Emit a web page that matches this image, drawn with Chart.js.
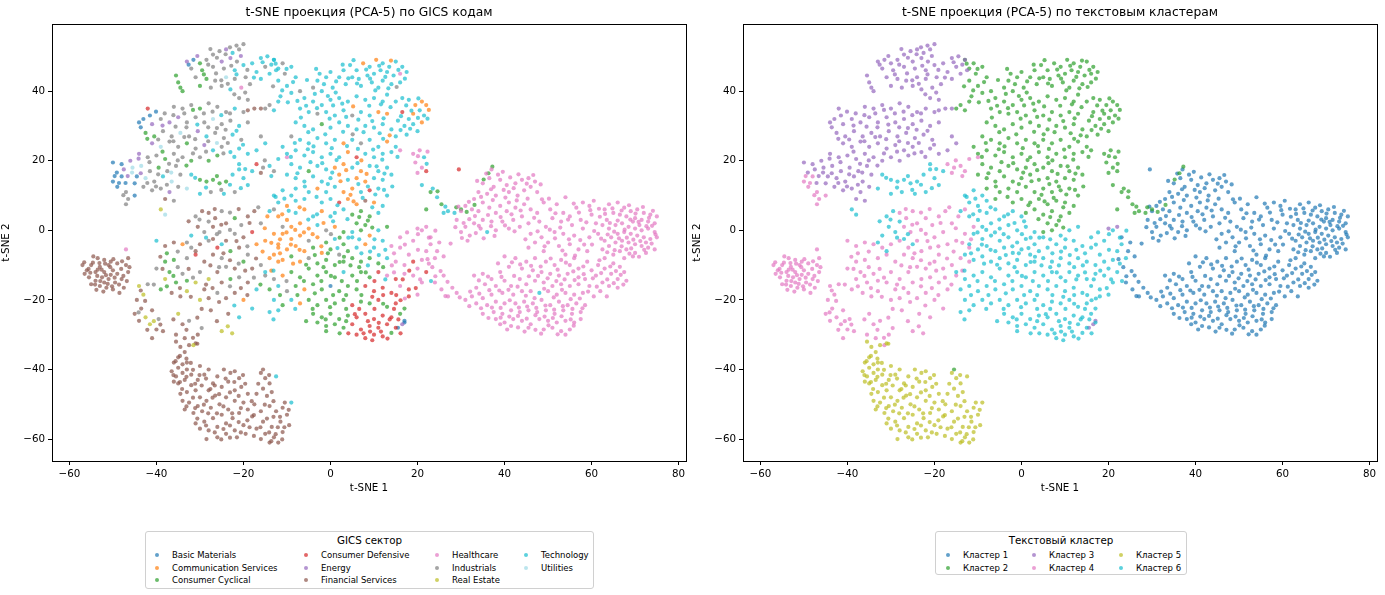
<!DOCTYPE html>
<html>
<head>
<meta charset="utf-8">
<script src="https://cdn.jsdelivr.net/npm/chart.js@4.4.1/dist/chart.umd.min.js"></script>
<style>
  body { margin: 0; background: #fff; font-family: "DejaVu Sans", sans-serif; }
  #wrap { position: relative; width: 1385px; height: 595px; overflow: hidden; }
  canvas { position: absolute; top: 0; }
  .ttl { position: absolute; top: 5px; font-size: 12.3px; color: #000; white-space: nowrap; transform: translateX(-50%); }
  .leg { position: absolute; border: 1px solid #d0d0d0; border-radius: 3px; background: #fff; }
  .leg .lt { position: absolute; top: 2px; left: 0; right: 0; text-align: center; font-size: 10.3px; }
  .leg .it { position: absolute; font-size: 8.5px; white-space: nowrap; line-height: 10px; }
  .leg .mk { position: absolute; width: 4px; height: 4px; border-radius: 50%; }
</style>
</head>
<body>
<div id="wrap">
  <canvas id="left" width="690" height="500" style="left:0"></canvas>
  <canvas id="right" width="690" height="500" style="left:691px"></canvas>
  <div class="ttl" style="left:369px">t-SNE проекция (PCA-5) по GICS кодам</div>
  <div class="ttl" style="left:1060px">t-SNE проекция (PCA-5) по текстовым кластерам</div>
  <div class="leg" id="legL" style="left:145px;top:531px;width:447px;height:56px"><div class="lt">GICS сектор</div></div>
  <div class="leg" id="legR" style="left:935px;top:531px;width:250px;height:42px"><div class="lt">Текстовый кластер</div></div>
</div>
<script>
// categories
const sectors = ['Basic Materials', 'Communication Services', 'Consumer Cyclical', 'Consumer Defensive',
  'Energy', 'Financial Services', 'Healthcare', 'Industrials', 'Real Estate', 'Technology', 'Utilities'];
const clusterNames = ['Кластер 1', 'Кластер 2', 'Кластер 3', 'Кластер 4', 'Кластер 5', 'Кластер 6'];
const xTicks = [-60, -40, -20, 0, 20, 40, 60, 80];
const yTicks = [-60, -40, -20, 0, 20, 40];

// points per text cluster: [t-SNE 1, t-SNE 2, sector index]
const cluster1 = [
  [37,17.5,6],[38.5,16,6],[36.5,15,6],[35,13.5,6],[39,14.5,6],[40.5,13,6],[37.5,12.5,6],[34,11,6],[36,10.5,6],[38,10,6],
  [41,11,6],[42.5,13.5,6],[44,14.5,6],[45.5,15,6],[47,14,6],[46,12.5,6],[44.5,11.5,6],[43,10,6],[47.5,11,6],[33,9,6],
  [35,8,6],[31,7,6],[32.5,6,6],[30,5.5,6],[34,5.5,6],[36.5,6.5,6],[39,7,6],[41,8,6],[38,5,6],[40.5,5.5,6],
  [42.5,6.5,6],[44.5,7.5,6],[46,6,6],[47.5,5,6],[44,4,6],[42,3,6],[39.5,2.5,6],[37,2.5,6],[35,3,6],[33,2,6],
  [31,1,6],[30,-0.5,6],[32,-1.5,6],[34.5,0.5,6],[36,-0.5,9],[38,0,6],[41,0.5,6],[43.5,1,6],[45.5,2,6],[48,2.5,6],
  [29,3,6],[31.5,-3,6],[29.5,17.5,3],
  [33.7,14.2,6],[35.8,16.3,6],[39.6,16.8,6],[41.3,15.2,6],[43.2,16.1,6],[46.6,15.9,6],[48.3,13.2,6],[45.1,13.4,6],[42.1,12.1,6],[39.8,11.6,6],
  [36.9,11.8,6],[34.6,9.6,6],[37.3,8.7,6],[40.2,9.4,6],[42.8,8.6,6],[45.3,9.1,6],[48.6,8.9,6],[31.8,8.2,6],[29.4,6.8,6],[33.2,4.1,6],
  [36.2,4.4,6],[39.1,3.8,6],[41.6,4.6,6],[43.7,5.7,6],[46.8,3.6,6],[31.9,3.2,6],[34.1,1.3,6],[36.9,1.2,6],[40.1,1.4,6],[42.3,-0.3,6],
  [30.6,2.1,6],[28.7,0.9,6],[33.4,-0.8,6],[35.2,-2.3,6],[30.2,-2.2,6],[37.7,-1.6,6],
  [49,8,6],[50.5,6,6],[52,7.5,6],[53.5,5,6],[55,4,6],[54,9.5,6],[56.5,6.5,6],[58,8,6],[59.5,7,6],[60.5,8.5,6],
  [57.5,3,6],[55.5,1.5,6],[53,2.5,6],[51,3.5,6],[49.5,1,6],[51.5,-0.5,6],[53.5,-1,6],[56,-1.5,6],[58,0.5,6],[59.5,-2,6],
  [61,2,6],[60,4.5,6],[50,-3.5,6],[52.5,-4.5,6],[55,-4,6],[57,-5.5,6],[59,-6,6],[54,-7,6],[48.5,-2,6],[47,-3.5,6],
  [46,-1,6],[45.5,-5,6],[49,-6,6],
  [50.2,9.1,6],[51.7,4.9,6],[52.8,0.8,6],[54.6,3.1,6],[55.9,7.7,6],[57.1,5.1,6],[58.8,2.3,6],[59.7,5.8,6],[61.7,6.2,6],[60.6,-0.2,6],
  [57.4,-2.8,6],[54.8,-2.6,6],[51.6,-2.3,6],[49.2,-4.6,6],[53.3,-5.8,6],[56.2,-7.3,6],[58.3,-4.1,6],[47.6,-0.3,6],[50.4,0.2,6],[44.8,-2.6,6],
  [60.1,-4.1,6],[61.9,3.9,6],
  [64,7.5,6],[66,8,6],[67.5,6.5,6],[69,5.5,6],[70.5,6,6],[72,5,6],[73.5,4.5,6],[75,4,6],[74.5,2,6],[73,2.5,6],
  [71.5,3,6],[70,3.5,6],[68,4,6],[66.5,4.5,6],[65,5,6],[63.5,3,6],[62.5,1.5,6],[64,0.5,6],[65.5,1.5,6],[67,2,6],
  [68.5,1,6],[70,0.5,6],[71.5,0,6],[73,0.5,6],[74.5,-0.5,6],[75,-2,6],[73.5,-2.5,6],[72,-2,6],[70.5,-1.5,6],[69,-1,6],
  [67.5,-0.5,6],[66,-1,6],[64.5,-2,6],[63,-3,6],[64,-4.5,6],[65.5,-3.5,6],[67,-3,6],[68.5,-3.5,6],[70,-4,6],[71.5,-4.5,6],
  [73,-5,6],[74.5,-5.5,6],[72.5,-6.5,6],[70,-6.5,6],[68,-5.5,6],[66.5,-6,6],[65,-7,6],[67.5,-8,6],[69.5,-7.5,6],[61.5,-1,6],
  [62.5,-5.5,6],[71,1.5,6],[69.5,2.5,6],[66,2.8,6],[63,6,6],[72.5,-3.5,6],
  [63.1,4.7,6],[64.8,6.3,6],[66.9,5.7,6],[68.6,7.2,6],[70.1,4.8,6],[71.8,6.7,6],[73.2,3.6,6],[74.1,5.6,6],[72.6,1.2,6],[70.8,2.4,6],
  [68.9,3.1,6],[67.6,0.2,6],[65.2,-0.4,6],[63.7,-1.2,6],[66.3,-2.3,6],[68.1,-2.1,6],[69.6,-2.7,6],[71.2,-3.1,6],[73.8,-3.8,6],[74.7,-1.2,6],
  [72.1,-5.6,6],[69.1,-5.2,6],[66.9,-4.6,6],[65.3,-5.7,6],[63.6,-6.3,6],[70.9,-7.6,6],[68.7,-6.7,6],[64.2,2.1,6],[73.9,1.3,6],[62.2,-2.4,6],
  [63,-8,6],[65,-9.5,6],[66.5,-10.5,6],[67.5,-12,6],[68,-14.5,6],[66,-14,6],[64.5,-12.5,6],[63,-11,6],[61.5,-10,6],[60,-11.5,6],
  [61,-13,6],[62.5,-15,6],[64,-16,6],[62,-17.5,6],[60.5,-19,6],[59.5,-16,6],[58.5,-14,6],[59,-9,6],[66,-16.5,6],[63.5,-19,6],
  [61.8,-8.6,6],[64.3,-10.4,6],[66.7,-12.8,6],[65.6,-11.7,6],[62.2,-12.3,6],[63.6,-14.1,6],[61.2,-16.2,6],[65.1,-15.2,6],[67.3,-15.6,6],[60.3,-13.8,6],
  [59.2,-17.6,6],[58.1,-10.4,6],
  [40,-7.5,6],[42.5,-8,6],[45,-9,6],[47,-8,6],[49.5,-9,6],[51.5,-10,6],[53,-8.5,6],[55,-10,6],[57,-11,6],[56,-8,6],
  [44,-11,6],[41,-10.5,6],[38.5,-9.5,6],[39,-12,6],[46.5,-11.5,6],[48.5,-12,6],[50.5,-12.5,6],[52.5,-13,6],[54.5,-12.5,6],[57,-13.5,6],
  [33,-13,6],[35,-12.5,6],[37,-14,6],[35.5,-15.5,6],[33.5,-16.5,6],[38,-16,6],[40,-14.5,6],[41.5,-16,6],[43.5,-14,6],[45,-15.5,6],
  [47,-14.5,6],[49,-15,6],[51,-16,6],[53,-15.5,6],[55,-16,6],[57,-15.5,6],[58,-18,6],[56,-18.5,6],[54,-18,6],[52,-18.5,6],
  [50,-17.5,6],[48,-18,9],[46,-17.5,6],[44,-17.5,6],[42,-18.5,6],[39.5,-18,6],[37,-18.5,6],[35,-19.5,6],[32.5,-19,6],
  [31,-20,6],[33.5,-21,6],[36,-21.5,6],[38,-20.5,6],[40,-21,6],[42.5,-21,6],[44.5,-20.5,6],[46.5,-21,6],[48.5,-20,6],[50.5,-21.5,6],
  [52.5,-20.5,6],[54.5,-21.5,6],[56.5,-21,6],[58.5,-21.5,6],[57.5,-23.5,6],[55.5,-24,6],[53.5,-23,6],[51.5,-24,6],[49.5,-23,6],[47.5,-23.5,6],
  [45.5,-23,6],[43.5,-23.5,6],[41.5,-23,6],[39.5,-24,6],[37.5,-23.5,6],[35,-24,6],
  [38,-25.5,6],[40,-26.5,6],[42,-25.5,6],[44,-26,6],[46,-27,6],[48,-25.5,6],[50,-26,6],[52,-26.5,6],[54,-26,6],[56,-26.5,6],
  [55,-28.5,6],[53,-29,6],[54,-30,6],[51,-28,6],[49,-28.5,6],[45.5,-28,6],[41.5,-27.5,6],[39,-27,6],[57.5,-25.5,6],
  [41.7,-9.2,6],[43.6,-9.8,6],[46.1,-10.2,6],[48.3,-10.4,6],[50.6,-8.1,6],[52.2,-11.3,6],[54.1,-9.3,6],[55.8,-11.8,6],[58.2,-12.6,6],[45.6,-13.2,6],
  [47.7,-13.1,6],[49.9,-13.8,6],[51.9,-14.6,6],[53.8,-14.1,6],[56.1,-14.3,6],[42.2,-13.1,6],[39.3,-13.4,6],[36.2,-13.3,6],[34.1,-14.4,6],[36.5,-17.2,6],
  [38.8,-17.3,6],[40.9,-17.1,6],[43,-16.2,6],[44.9,-18.8,6],[46.9,-19.5,6],[49.1,-16.8,6],[51.3,-19.3,6],[53.2,-17.1,6],[55.2,-19.8,6],[57.3,-19.6,6],
  [34.2,-18.2,6],[32.1,-17.6,6],[31.9,-21.8,6],[34.6,-22.4,6],[37.1,-22.2,6],[39.1,-22.3,6],[41.2,-20.1,6],[43.3,-22.2,6],[45.2,-21.9,6],[47.3,-22.3,6],
  [49.4,-21.6,6],[51.4,-22.8,6],[53.4,-21.8,6],[55.6,-22.6,6],[57.9,-22.4,6],[36.3,-25.2,6],[39.1,-25.1,6],[41.1,-24.8,6],[43.1,-24.6,6],[45.1,-25.4,6],
  [47.1,-24.4,6],[49.2,-24.8,6],[51.1,-25.2,6],[53.1,-24.7,6],[55.2,-25.6,6],[43.1,-27.9,6],[47.1,-28.6,6],[50.1,-27.3,6],[52.2,-29.9,6],[55.9,-27.4,6],
  [40.6,-28.5,6],[44.6,-29.1,6],[48.4,-29.7,6],
  [24,-15,6],[25.5,-17,6],[27,-19,6],[29,-18,6],[28,-16.5,6],[26,-13,6],[24.5,-6,6],[26,-7.5,6],[23,-2,6],[25,-3.5,6],
  [22.3,-8.3,6],[23.4,-10.6,6],[25.3,-11.7,6],[26.9,-14.8,6],[29.7,-19.3,6],[26.4,-18.9,6],[27.6,-3.8,6],[24.1,-13.2,6]
];
const cluster2 = [
  [2,44,9],[3,46,9],[4.5,47.5,9],[6,46,9],[7.5,48,1],[9,47,9],[10.5,49,1],[12,48,9],[13.5,47,9],[15,48.5,9],
  [16.5,47,9],[17.5,45.5,9],[16,45,6],[14.5,44.5,9],[13,45.5,9],[11.5,46,9],[10,45,9],[8.5,44.5,9],[6.5,43.5,9],[5,44,9],
  [3.5,42,9],[7,41.5,9],[9.5,42.5,9],[12,43,9],[14,42,9],[16,42.5,9],[11,41,9],
  [2.8,47.6,9],[5.3,48.9,9],[8.2,46.2,9],[11.2,47.3,9],[13.9,48.8,1],[15.6,46.1,9],[17.1,43.6,9],[12.6,44.1,9],[9.1,43.6,9],[6.1,42.2,9],
  [4.1,43.7,9],[1.3,42.8,9],[10.3,40.2,9],[13.3,40.8,9],[15.2,41.2,7],
  [-2.5,45,9],[-1,44,9],[0,45.5,9],[-3,43,9],[-1.5,42,9],[0.5,41,9],[-4,41,7],[-2,40,9],
  [-13,49,9],[-11,48,7],[-9,47,9],[-12,46.5,9],[-10.5,45,7],[-8,44,9],[-12,43,9],[-10,41.5,9],[-7,40,7],[-9,39.5,9],
  [-11.5,38.5,9],[-14,36,7],[-15,35,7],[-13,34.5,9],[-12,37,9],
  [-12.6,47.9,9],[-10.1,46.4,9],[-8.6,42.6,9],[-11.1,40.2,9],[-13.2,41.4,7],[-9.8,36.8,9],[-7.6,37.2,9],[-3.6,39.2,9],[-0.6,38.6,9],[-5.4,43.2,9],
  [-3.3,46.4,9],[1.2,39.6,9],
  [-6,38,9],[-4,37,9],[-2,36,9],[0,37.5,9],[2,38,9],[4,37,9],[6,38.5,9],[8,37.5,9],[10,38,9],[12,37,9],
  [13,39,9],[-7,35,9],[-5,34,9],[-3,33.5,7],[-1,34,9],[1,33,9],[3,34.5,9],[5,33,7],[7,34,9],[9,33,9],
  [11,34,1],[13,33.5,1],[-8,31,9],[-6,30,9],[-4,29,9],[-2,30.5,2],[0,29.5,9],[2,31,9],[4,30,9],[6,29,9],
  [8,30,9],[10,29.5,9],[12,30.5,9],[14,29,9],[-9,27,7],[-7,26,9],[-5,25,9],[-3,26.5,9],[-1,25,9],[1,26,9],
  [3,25,1],[5,26,9],[7,25,7],[9,26,9],[11,24,9],[13,25.5,1],[15,24,9],[-11,24,9],[-10,22,9],[-8,23,9],
  [-6,21.5,9],[-4,22.5,9],[-2,21,9],[0,22,9],[2,21,9],[4,22.5,1],[6,21,3],[8,22,9],[10,21,9],[12,22,9],
  [14,22.5,9],[16,23,6],
  [-5.6,35.8,9],[-3.1,35.1,9],[0.6,35.9,9],[2.7,36.4,9],[5.2,35.6,1],[8.9,35.8,9],[11.6,36.2,9],[13.8,35.4,9],[-6.8,32.4,9],[-0.2,32.1,9],
  [3.6,32.6,9],[6.4,31.8,9],[9.6,31.4,9],[12.2,32.2,9],[-5.1,28.2,9],[-1.2,27.6,9],[2.9,28.3,9],[5.1,27.6,7],[7.6,28.2,9],[11.3,27.9,9],
  [13.6,27.3,1],[-8.2,25.1,9],[-3.9,24.1,9],[0.3,23.6,9],[3.8,24.2,9],[6.3,23.4,9],[9.8,23.2,9],[12.1,26.3,9],[-9.1,21.1,9],[-5.2,23.3,9],
  [1.4,20.2,9],[7.1,20.1,1],[11.9,20.3,9],[15.4,21.1,9],
  [15,37,9],[16.5,38,9],[18,37.5,9],[19.5,36,1],[21,37,1],[22,36,1],[20.5,34.5,9],[19,33.5,1],[21.5,33,9],[18,32,9],
  [16.5,34,3],[15.5,31.5,9],[17,30,9],[19,30.5,9],[21,31,1],[20,28.5,9],[17.5,27.5,9],[15,27,9],
  [17.4,35.9,9],[20.2,37.9,9],[22.6,34.6,1],[18.6,34.4,9],[16.2,32.8,9],[20.1,32.3,9],[18.3,29.2,9],[16.1,28.8,9],[22.3,32.1,9],
  [-9,19,9],[-7,18,9],[-5,17,2],[-3,18.5,9],[-1,17.5,9],[1,18,1],[3,19,1],[5,18,9],[7,17,1],[9,18.5,9],
  [11,17,9],[13,18,9],[-8,15,9],[-6,14,9],[-4,15.5,9],[-2,14,9],[0,15,9],[2,16,1],[4,14.5,9],[6,15,1],
  [8,14,1],[10,15,9],[12,14.5,9],[14,16,9],[-5,11,9],[-3,12,1],[-1,11,9],[1,12.5,9],[3,11,1],[5,12,1],
  [7,11,9],[9,11.5,3],[11,12,9],[13,10,9],[-2,8,9],[0,9,9],[2,8,3],[4,9,1],[6,7.5,1],[8,8.5,5],
  [10,8,1],[12,7,9],[1,5,9],[3,6,9],[5,4.5,2],[7,5.5,2],[9,4,2],[11,5,9],[6,2,2],[8,1.5,2],
  [7,0,2],[5,-0.5,9],[-8,12,9],[-10,16,9],[-6,9,9],
  [-7.6,16.4,9],[-4.6,19.6,9],[-1.9,19.3,9],[0.4,16.6,9],[3.6,17.3,1],[6.2,19.3,9],[8.3,16.2,1],[10.6,18.4,9],[12.4,16.3,9],[-5.9,12.6,9],
  [-3.2,9.6,9],[-0.6,13.3,9],[2.3,14.1,1],[4.6,10.2,1],[6.4,13.3,9],[8.6,12.6,9],[10.3,10.3,9],[12.3,11.6,9],[14.2,12.6,9],[1.6,7.2,9],
  [5.3,8.3,1],[7.4,9.3,9],[9.6,6.6,9],[3.9,3.2,9],[6.6,3.8,2],[8.6,2.8,2],[9.6,0.8,2],
  [19,22,6],[20.5,23,6],[21.5,21,9],[19.5,19.5,6],[21,18,6],[20,16.5,6],[22,17,3],[21,13,9],[23,11,2],[24.5,9.5,9],
  [25.5,7.5,2],[27,5.5,9],[28.5,5,9],[30,6,2],[26,5,9],[23.5,12,9],[22,6,2],[-15.5,-40,5],
  [20.1,21.3,6],[22.3,22.6,6],[22.1,19.1,9],[24.6,11.2,2],[26.4,6.8,9],[28.9,6.6,2],[31.3,5.3,2],[33.1,7.3,2],[35.2,14.6,2],[36.3,16.4,2],
  [37.2,18.3,2]
];
const cluster3 = [
  [-20,53.5,7],[-21,52,7],[-22.5,51,9],[-24,52,4],[-25.5,51.5,7],[-27,50.5,7],[-23,49.5,4],[-21.5,48.5,7],[-25,48.5,4],[-28.5,49,7],
  [-30,48,2],[-31.5,49,0],[-33,48.5,4],[-32,46.5,7],[-29.5,46,2],[-27,47,7],[-24.5,46.5,7],[-22,46,9],[-20,47.5,9],[-18,48,9],
  [-16,49.5,9],[-14.5,50,9],[-13,49,9],[-15,47,7],[-17,45.5,9],[-19.5,44,7],[-22,43.5,7],[-24,44,10],[-26.5,43,7],[-28.5,43.5,2],
  [-31,44,7],[-30,41.5,2],[-27.5,41,7],[-25,41.5,7],[-23,40.5,9],[-20.5,41,6],[-18.5,42,7],[-16,43.5,9],[-14,45,9],[-12.5,46,9],
  [-21,38,7],[-19,37.5,7],[-19,34.5,5],[-17.5,35,5],[-16,35,5],
  [-21.6,53.1,7],[-23.1,52.6,7],[-26.1,49.6,7],[-28.1,47.6,7],[-22.8,47.3,7],[-20.6,50.1,4],[-24.1,50.6,7],[-26.3,45.1,7],[-29.1,44.8,2],[-32.6,47.6,0],
  [-23.6,42.1,7],[-21.6,44.8,9],[-19.1,46.1,7],[-17.6,43.9,9],[-15.6,48.3,9],[-13.6,47.6,9],[-30.6,50.1,4],[-27.6,52.1,7],[-25.1,43.1,7],[-19.6,39.6,7],
  [-22.1,39.1,7],
  [-35.5,44.5,2],[-35,42.5,2],[-34.5,41,2],[-34,40,2],
  [-36,35.5,7],[-34,35,7],[-32,36,7],[-30,35,2],[-28,36.5,7],[-26,35.5,7],[-24,34,7],[-22,35,9],[-20,34,7],
  [-42,35,3],[-41.5,33,0],[-43,32,0],[-44,31,0],[-41,30.5,4],[-39,32,7],[-37,31,4],[-35,32.5,4],[-33,31,7],[-31,32.5,7],
  [-29,31,7],[-27,32,10],[-25,30.5,7],[-23,31.5,7],[-21,30,9],[-19,31,7],
  [-42.5,28,2],[-40.5,27,2],[-38.5,28.5,7],[-36.5,27,7],[-34.5,28,10],[-32.5,27,7],[-30.5,28.5,4],[-28.5,27,9],[-26.5,28,7],[-24.5,26.5,7],
  [-22.5,27.5,9],[-20.5,26,7],[-41,25,4],[-39,24,10],[-37,25.5,7],[-35,24,7],[-33,25,2],[-31,23.5,7],[-29,24.5,4],[-27,23,9],
  [-25,24,7],[-23,22.5,9],[-21,23.5,9],[-19,22,9],[-40,21.5,7],[-38,20.5,2],[-36,22,7],[-34,21,7],[-32,20,2],[-30,21,7],
  [-28,20,2],[-26,21.5,2],[-17,23,9],[-15,25,9],[-16,27,7],
  [-40.1,34.1,0],[-38.1,33.6,7],[-36.1,33.1,7],[-33.6,33.6,7],[-31.6,34.6,2],[-29.1,33.6,7],[-27.1,34.1,7],[-25.1,33.1,9],[-23.1,33.6,7],[-38.6,30.1,4],
  [-35.6,29.8,7],[-33.1,29.6,7],[-30.6,30.4,9],[-28.1,29.6,7],[-26.1,29.4,7],[-24.1,28.9,7],[-21.6,28.6,9],[-43.6,29.6,0],[-42.1,26.3,2],[-39.6,26.1,7],
  [-36.1,25.6,7],[-33.6,26.8,7],[-31.1,26.2,7],[-28.1,25.6,7],[-26.1,25.1,10],[-23.6,25.1,7],[-20.1,24.6,9],[-38.6,22.6,2],[-35.1,20.1,7],[-31.6,22.1,7],
  [-28.6,22.6,7],[-24.6,22.1,7],[-22.1,21.1,9],[-37.1,19.1,7],[-33.1,18.6,2],
  [-44,22,4],[-42,21,7],[-46,20,4],[-48,19,0],[-50,19.5,0],[-47.5,17.5,4],[-45.5,18,10],[-43.5,18.5,10],[-41.5,17,7],[-39.5,18,2],
  [-37.5,17,7],[-35.5,18.5,7],[-44.5,15.5,0],[-42.5,15,10],[-40.5,14,7],[-38.5,15.5,9],[-36.5,14,10],[-34.5,16,7],[-43,12.5,7],[-41,11.5,7],
  [-39,12,7],[-37,11,4],[-35,12.5,7],[-38,9,5],[-36,8.5,7],[-45,13.5,0],
  [-49.1,16.6,0],[-46.6,15.6,4],[-47.1,13.6,0],[-45.6,16.6,10],[-43.6,16.4,4],[-41.6,19.6,7],[-39.6,16.1,7],[-37.6,13.1,7],[-40.1,12.6,7],[-42.1,13.6,7],
  [-44.1,20.6,4],[-36.6,16.6,10],
  [15.5,-28,0],[16.5,-27,4],[17,-26,0],[20,0.5,6],[22,1,6]
];
const cluster4 = [
  [-57,-10,5],[-56,-11.5,5],[-55,-10,5],[-54,-12,5],[-53,-10.5,5],[-52,-12,5],[-51,-10,5],[-50,-11.5,5],[-49,-12.5,5],[-55.5,-13.5,5],
  [-54,-14.5,5],[-52.5,-13.5,5],[-51,-14,5],[-49.5,-15,5],[-53,-16,5],[-51.5,-16.5,5],[-50,-17,5],[-48,-14,5],[-47.5,-16.5,5],[-56.5,-12.5,5],
  [-53.5,-8,5],[-52,-8.5,5],[-50.5,-9,5],[-54.5,-7.5,5],[-49,-9.5,5],[-47,-10,5],[-46.5,-8,5],[-47,-5.5,6],[-46.5,-12,5],[-52,-15,5],
  [-50.5,-12.8,5],[-53.5,-11.3,5],[-55,-15.5,5],[-48.5,-18,5],
  [-56.6,-9.2,5],[-55.6,-11.1,5],[-54.6,-9.3,5],[-53.6,-13.1,5],[-52.6,-11.3,5],[-51.6,-12.9,5],[-50.6,-10.6,5],[-49.6,-13.6,5],[-54.1,-15.6,5],[-52.9,-14.6,5],
  [-51.2,-15.4,5],[-50.2,-16.1,5],[-48.6,-15.6,5],[-47.6,-13.1,5],[-55.2,-12.2,5],[-53.1,-9.4,5],[-51.8,-9.6,5],[-49.9,-8.3,5],[-48.1,-11.1,5],[-47.9,-8.9,5],
  [-46.2,-10.6,5],[-53.8,-17.1,5],[-52.2,-17.6,5],[-46.8,-14.6,5],
  [-44,-16,8],[-43,-18.5,8],[-42,-15.5,7],[-44.5,-20,5],[-43.5,-22.5,5],[-42.5,-25,8],[-41.5,-27,8],[-40,-28.5,5],[-41,-23,5],[-39.5,-25.5,7],
  [-38.5,-29,5],[-39,-17,2],[-38,-14,8],[-40,-11,7],[-38,-9,2],[-36,-8.5,2],[-37,-12,2],[-35.5,-15,2],[-34,-12.5,7],[-33,-14.5,2],
  [-36.5,-18,5],[-34.5,-19,5],[-33,-17.5,8],[-35,-24,8],[-34,-27,5],[-32.5,-26,7],[-35.5,-30,5],[-33.5,-31,5],[-31.5,-33,8],[-30.5,-30,5],
  [-40,-3,9],[-38,-4.5,5],[-36,-3.5,5],[-34,-4,1],[-32,-5,7],[-30,-4,5],[-31,-7,3],[-33,-8,7],[-29,-9,5],[-30,-12,7],
  [-31,-15,8],[-29,-17,5],[-28,-19.5,5],[-30,-20,8],[-27.5,-23,5],[-44,-26,5],[-45,-24,5],[-41,-31,5],
  [-43.6,-17.3,5],[-42.6,-20.3,5],[-44.1,-23.6,7],[-40.6,-26.1,8],[-42.1,-28.6,5],[-39.1,-27.1,5],[-40.6,-15.6,7],[-37.6,-16.1,2],[-36.1,-13.1,2],[-35.1,-10.6,7],
  [-38.6,-11.1,5],[-34.6,-16.6,5],[-32.1,-19.1,5],[-36.1,-25.6,5],[-33.1,-28.6,5],[-31.6,-30.9,5],[-29.6,-28.1,7],[-37.6,-6.6,2],[-35.1,-6.1,7],[-39.1,-7.6,5],
  [-32.6,-11.1,5],[-31.6,-13.6,7],[-28.6,-15.6,5],[-29.6,-22.6,5],[-30.6,-25.1,5],
  [-28,5,5],[-26.5,3.5,5],[-25,5.5,7],[-27,1,5],[-25.5,-0.5,7],[-24,2,5],[-22,3.5,2],[-20.5,1.5,7],[-19,4,5],[-17.5,5.5,5],
  [-16,2,7],[-14.5,4,1],[-13,6,7],[-18,-0.5,3],[-20,-2,5],[-22,-1,7],[-24,-3,5],[-26,-5,3],[-28,-3,7],[-27,-7,5],
  [-25,-8,7],[-23,-6,2],[-21,-5,5],[-19,-7,7],[-17,-4,1],[-15,-3,1],[-13,-1,1],[-11,1,7],[-12,-5,1],[-14,-8,1],
  [-16,-10,7],[-18,-11,5],[-20,-9,2],[-22,-11,5],[-24,-10.5,7],[-26,-12,5],[-28,-14,8],[-25,-15,5],[-23,-14,2],[-21,-13.5,7],
  [-19,-15,5],[-17,-17,9],[-22,-18,5],[-24,-19.5,5],[-26,-18,7],[-20,-20,1],[-18,-22.5,9],[-23.5,-24,5],[-25,-29,8],[-21,-25,9],
  [-15,-13,7],[-12,-9,1],
  [-26.6,6.1,5],[-23.1,5.1,7],[-21.1,6.1,5],[-18.6,2.1,5],[-16.6,6.6,7],[-15.1,0.6,1],[-25.1,1.6,5],[-23.1,0.1,7],[-21.6,-3.1,5],[-19.1,-4.6,7],
  [-17.1,-8.1,5],[-15.6,-6.1,1],[-13.6,-3.6,1],[-11.6,-2.6,1],[-24.6,-6.6,5],[-27.6,-10.1,5],[-25.6,-10.6,7],[-23.1,-8.6,5],[-21.1,-9.6,7],[-19.6,-11.6,5],
  [-17.6,-13.6,7],[-20.6,-16.6,5],[-23.1,-16.1,7],[-25.6,-20.6,5],[-27.1,-16.6,5],[-22.1,-21.6,9],[-19.1,-18.6,5],[-16.1,-15.6,2],[-13.6,-11.6,1],[-26.1,-26.1,5],
  [-23.6,-27.6,8],[-22.6,-29.6,8],
  [-17,19,3],[-15.5,18,7],[-14,18.5,9],[-13,17,7],[-16,16.5,5],[-50,14,0],[-49,12.5,0],[-48,15.5,0],[-47,11,7],[-46.5,9,7],
  [-47,7.5,7],[-45,10,0],[-12,20.5,9],[-10,21,6],[-48.6,13.6,0],[-47.6,10.1,7],[-49.6,15.6,0],[-15.1,20.1,7],[-13.6,15.6,9]
];
const cluster5 = [
  [-35.5,-32,5],[-34.5,-33.5,5],[-33.5,-35,5],[-35,-36.5,5],[-32.5,-33,5],[-31,-32.5,5],
  [-36,-38,5],[-35,-39.5,5],[-34,-38.5,5],[-36.5,-40.5,5],[-35.5,-42,5],[-34,-41,5],[-33,-40,5],[-32,-41.5,5],[-33.5,-43,5],[-35,-44,5],
  [-32,-44.5,5],[-30.5,-43,5],[-29,-41.5,5],[-28,-40,5],[-31,-46,5],[-33,-46.5,5],[-34.5,-47,5],[-30,-48,5],[-28,-46,5],[-27,-44,5],
  [-26,-42,5],[-24.5,-40,5],[-23,-41,5],[-22,-40.5,5],[-21,-42.5,5],[-23.5,-43.5,5],[-25,-45,5],[-26.5,-47.5,5],[-28.5,-49,5],[-30.5,-50.5,5],
  [-32.5,-49.5,5],[-33.5,-51.5,5],[-31.5,-52.5,5],[-29.5,-52,5],[-27.5,-51,5],[-25.5,-50,5],[-24,-48,5],[-22,-46,5],[-20.5,-45,5],[-19,-47,5],
  [-20,-49.5,5],[-22,-49,5],[-23.5,-51.5,5],[-25,-53,5],[-27,-54,5],[-29,-55,5],[-31,-55.5,5],[-30,-57,5],[-28,-57.5,5],[-26,-56.5,5],
  [-24,-55.5,5],[-22.5,-54,5],[-21,-52.5,5],[-19,-51.5,5],[-17.5,-50,5],[-18,-53.5,5],[-20,-56,5],[-22,-57.5,5],[-24,-58.5,5],[-21.5,-59.5,5],
  [-19.5,-58.5,5],[-17,-57,5],[-15.5,-55,5],[-16,-52,5],[-14,-50.5,5],[-12.5,-52,5],[-11,-51,5],[-10,-53,5],[-11.5,-55,5],[-13.5,-56.5,5],
  [-15,-58.5,5],[-13,-59.5,5],[-11,-58,5],[-9.5,-56,5],[-12,-61,5],[-14,-61,5],[-16,-60,5],[-10.5,-49.5,5],[-16,-41,5],[-15,-42.5,5],
  [-14,-44,5],[-15.5,-45.5,5],[-13.5,-46.5,5],[-12.5,-42,9],[-17,-47,5],[-33,-38,5],[-30,-39,5],[-26,-59.5,5],[-28.5,-60,5],[-34,-49,5],
  [-36,-43.5,5],[-9,-49.5,9],
  [-35.6,-37.6,5],[-34.6,-36.1,5],[-33.1,-36.9,5],[-36.1,-41.6,5],[-34.6,-43.6,5],[-33.1,-42.1,5],[-31.6,-40.1,5],[-30.1,-41.6,5],[-29.6,-44.6,5],[-31.6,-48.1,5],
  [-33.1,-50.6,5],[-31.1,-51.1,5],[-29.1,-50.1,5],[-27.1,-48.1,5],[-25.6,-47.1,5],[-26.6,-44.6,5],[-24.1,-42.6,5],[-22.1,-43.6,5],[-20.1,-41.6,5],[-23.1,-46.6,5],
  [-21.1,-47.6,5],[-19.6,-44.1,5],[-18.1,-49.1,5],[-20.6,-51.1,5],[-22.6,-52.6,5],[-24.6,-50.6,5],[-26.1,-52.6,5],[-28.1,-52.6,5],[-30.6,-54.1,5],[-28.6,-56.1,5],
  [-26.6,-58.1,5],[-24.6,-57.1,5],[-23.1,-56.1,5],[-21.1,-55.1,5],[-19.1,-54.6,5],[-18.6,-56.6,5],[-20.6,-58.1,5],[-23.1,-59.6,5],[-25.1,-60.1,5],[-17.6,-59.1,5],
  [-16.1,-56.6,5],[-14.6,-54.1,5],[-13.1,-53.6,5],[-12.1,-56.6,5],[-14.1,-58.1,5],[-10.6,-56.6,5],[-12.6,-58.6,5],[-13.6,-60.6,5],[-11.1,-60.1,5],[-15.1,-50.1,5],
  [-13.1,-49.1,5],[-11.6,-53.6,5],[-9.6,-51.6,5],[-14.6,-47.6,5],[-16.6,-44.1,5],[-14.1,-41.6,5],[-17.6,-53.1,5],[-32.1,-38.1,5],[-34.1,-45.6,5],[-31.1,-44.1,5],
  [-28.6,-42.6,5],[-27.6,-45.6,5],[-30.6,-32.6,5]
];
const cluster6 = [
  [-32,16,9],[-30,14.5,2],[-28.5,14,2],[-27,14.5,2],[-25.5,13.5,2],[-24,14,2],[-22.5,16,9],[-21,17.5,9],[-20,15,9],[-19,13,9],
  [-22,11,7],[-24.5,10.5,9],[-27.5,11,7],[-30,10.5,9],[-33,12,10],[-39,6,8],[-38,4.5,10],[-21,19,9],[-18,17,9],
  [-31.1,15.1,9],[-26.1,15.6,2],[-23.1,13.1,9],[-20.6,12.1,9],[-25.1,11.6,7],[-28.6,12.3,9],[-19.6,17.6,9],
  [-31,4,7],[-29.5,5.5,5],[-28,2.5,7],[-30.5,1,5],[-32,-1.5,9],[-29,-0.5,7],[-27,-2.5,5],[-25,-4,9],[-33,-3.5,7],[-31,-6,5],
  [-30.1,3.1,7],[-32.6,2.6,5],[-28.6,-2.1,9],[-26.1,-1.1,7],
  [-13,10,9],[-11,11.5,9],[-9,10,9],[-12,8,9],[-10,7,1],[-8,8.5,9],[-14,5.5,9],[-12,4,1],[-10,3,1],[-8,5,9],
  [-6,6,1],[-4,4,9],[-2,5.5,1],[0,4,9],[-9,1,1],[-7,2,1],[-5,0.5,1],[-3,1.5,9],[-1,0,7],[1,1,1],
  [3,-0.5,2],[5,-2,9],[-11,-1,1],[-9,-2.5,1],[-7,-1.5,1],[-5,-3,7],[-3,-2,1],[-1,-3.5,2],[1,-2.5,9],[3,-4,2],
  [-12,-4,1],[-10,-5.5,1],[-8,-4.5,1],[-6,-6,1],[-4,-5,2],[-2,-6.5,1],[0,-5.5,2],[2,-7,7],[4,-6,2],[6,-5,9],
  [8,-4,1],[10,-5,9],[12,-3,9],[14,-4.5,6],[9,-1.5,1],[11,0,9],[13,1,2],[-13,-7,1],[-11,-8.5,1],[-9,-7.5,2],
  [-7,-9,1],[-5,-8,7],[-3,-9.5,2],[-1,-8.5,2],[1,-10,2],[3,-9,2],[5,-8,2],[7,-9,2],[9,-8,2],[11,-9.5,2],
  [13,-8,9],[15,-9,6],
  [-12.6,9.6,9],[-10.6,9.1,9],[-9.6,5.6,9],[-7.1,6.6,1],[-11.1,4.6,1],[-5.1,3.1,9],[-3.1,4.6,9],[-1.6,2.1,1],[0.6,2.6,9],[2.1,-2.1,2],
  [-8.1,0.1,1],[-6.1,-0.6,1],[-10.1,-0.6,1],[-4.1,-1.1,1],[-2.1,-4.6,1],[0.1,-1.1,7],[4.1,-2.1,9],[6.6,-2.6,9],[-9.1,-4.1,1],[-7.1,-5.6,1],
  [-3.6,-7.1,2],[-0.6,-6.6,2],[1.6,-5.1,9],[3.1,-7.6,2],[7.1,-6.6,9],[9.1,-6.1,9],[11.1,-7.1,9],[12.6,-5.6,9],[14.6,-6.6,6],[10.1,-2.6,9],
  [-11.6,-6.6,1],[-8.6,-9.6,1],[-5.6,-9.9,2],[-1.6,-10.6,2],[2.1,-9.1,2],[4.6,-10.1,2],[6.6,-10.6,2],[8.6,-10.1,9],[12.1,-10.6,2],[14.1,-10.1,6],
  [-15,-12,9],[-13,-14,7],[-11,-13,1],[-9,-12,2],[-7,-13.5,2],[-5,-11,2],[-3,-13,2],[-1,-12,2],[1,-13.5,2],[3,-12,9],
  [5,-13,2],[7,-12,2],[9,-13.5,2],[11,-12,3],[13,-13,6],[15,-14,3],[17,-12.5,6],
  [-14,-17,2],[-12,-16,9],[-10,-17.5,7],[-8,-16,2],[-6,-17,1],[-4,-15.5,2],[-2,-17,2],[0,-16,0],[2,-17.5,2],[4,-16,2],
  [6,-17,2],[8,-16,3],[10,-17.5,3],[12,-16.5,3],[14,-18,3],[16,-16,6],[18,-17,3],
  [-13,-20,9],[-11,-21.5,2],[-9,-20,9],[-7,-21,1],[-5,-20,2],[-3,-21.5,2],[-1,-20,2],[1,-21,2],[3,-20,2],[5,-21.5,3],
  [7,-20.5,2],[9,-21,2],[11,-20,3],[13,-22,2],[15,-21,3],[17,-22.5,2],
  [-14,-23.5,9],[-12,-23,9],[-4,-24,2],[-2,-25,2],[0,-24,2],[2,-25.5,2],[4,-24.5,2],[6,-25,3],[8,-24,3],[10,-25.5,3],
  [12,-24.5,3],[14,-25,3],[16,-24,2],
  [-3,-26.5,2],[-1,-27.5,2],[1,-27,2],[3,-28,2],[5,-27,3],[7,-28.5,3],[9,-27.5,3],[11,-28,3],[13,-27,3],[15,-28,3],
  [17,-26.5,0],[6,-30,3],[8,-31,3],[10,-30,3],[12,-30.5,3],[14,-29.5,2],[-1,-29,2],
  [-13.1,-11.6,9],[-10.1,-14.6,7],[-6.1,-14.6,2],[-2.1,-14.6,2],[0.1,-13.1,2],[2.6,-14.6,2],[6.1,-14.6,2],[8.1,-12.1,2],[10.1,-14.6,3],[12.6,-14.1,9],
  [14.6,-12.1,6],[16.6,-14.1,3],[-11.6,-18.6,2],[-7.6,-18.6,2],[-3.6,-18.1,2],[0.6,-18.6,2],[3.6,-18.6,2],[7.1,-18.6,2],[9.6,-19.1,3],[12.1,-18.6,3],
  [15.1,-18.6,3],[17.1,-19.6,6],[-8.1,-22.6,9],[-4.1,-22.6,2],[-0.1,-22.1,2],[3.6,-22.6,2],[6.6,-22.6,3],[10.1,-22.6,3],[12.1,-21.1,2],[14.6,-22.6,3],
  [16.1,-20.1,3],[-1.1,-25.6,2],[3.6,-26.1,2],[5.6,-24.1,3],[8.6,-26.1,3],[11.1,-26.6,3],[13.6,-25.6,3],[15.6,-25.6,3],[4.1,-29.6,3],[7.6,-29.6,3],
  [9.1,-29.1,3],[11.6,-29.1,3],[13.1,-31.1,3],[9.6,-31.6,3],[16.1,-29.6,3],[2.1,-29.6,2],[-5.6,-26.1,2],[-13.1,-25.6,9],
  [16,-5,6],[18,-7,6],[19,-9,3],[21,-8.5,6],[20,-11,6],[22,-12,3],[17,-10,6],[19,-13,6],[21,-15,6],[18,-19,3],
  [20,-18.5,6],[16,-2,6],[19,-3,6],[21,0,6],[23,-4,6],[24,-8,6],[22,-6,6],
  [17.1,-4.1,6],[20.1,-5.6,6],[22.6,-9.6,6],[18.1,-11.6,3],[20.6,-14.1,6],[23.1,-14.6,9],[19.6,-16.6,3],[22.6,-2.1,6],[24.1,-0.1,6],[17.6,-0.6,6],
  [20.1,-1.1,6]
];

const clusters = [cluster1, cluster2, cluster3, cluster4, cluster5, cluster6];
const tab10 = ['#1f77b4', '#ff7f0e', '#2ca02c', '#d62728', '#9467bd', '#8c564b', '#e377c2', '#7f7f7f', '#bcbd22', '#17becf'];
const sectorColors = tab10.concat(['#9edae5']);
const clusterColors = ['#1f77b4', '#2ca02c', '#9467bd', '#e377c2', '#bcbd22', '#17becf'];
const FONT = '"DejaVu Sans", sans-serif';

function rgba(hex, a) {
  const n = parseInt(hex.slice(1), 16);
  return 'rgba(' + (n >> 16) + ',' + ((n >> 8) & 255) + ',' + (n & 255) + ',' + a + ')';
}
function minus(v) { return v < 0 ? '\u2212' + Math.abs(v) : String(v); }

// black box around the plot area, like matplotlib spines
const frame = {
  id: 'frame',
  afterDraw(chart) {
    const a = chart.chartArea, c = chart.ctx;
    c.save();
    c.strokeStyle = '#000';
    c.lineWidth = 1;
    c.strokeRect(Math.round(a.left) + 0.5, Math.round(a.top) + 0.5, Math.round(a.right - a.left), Math.round(a.bottom - a.top));
    c.restore();
  }
};

function axis(ticks, min, max, title, isX) {
  return {
    type: 'linear', min: min, max: max,
    afterFit(s) { if (isX) s.height = 39; else s.width = 52; },
    afterBuildTicks(s) { s.ticks = ticks.map(v => ({ value: v })); },
    ticks: { color: '#000', font: { family: FONT, size: 10.3 }, padding: 3, callback: minus },
    grid: { display: true, drawOnChartArea: false, drawTicks: true, tickLength: 4, tickColor: '#000' },
    border: { display: false },
    title: { display: true, text: title, color: '#000', font: { family: FONT, size: 10.3 }, padding: isX ? { top: 0, bottom: 5 } : { top: 0, bottom: 3 } }
  };
}

function draw(id, datasets) {
  new Chart(document.getElementById(id), {
    type: 'scatter',
    data: { datasets: datasets },
    options: {
      responsive: false, animation: false,
      layout: { padding: { top: 24, right: 4, left: 0, bottom: 0 } },
      plugins: { legend: { display: false }, tooltip: { enabled: false } },
      scales: {
        x: axis(xTicks, -64, 81.7, 't-SNE 1', true),
        y: axis(yTicks, -66.3, 59.3, 't-SNE 2', false)
      }
    },
    plugins: [frame]
  });
}

const allPts = [].concat(...clusters);
draw('left', sectors.map((name, i) => ({
  label: name, order: -i,
  data: allPts.filter(p => p[2] === i).map(p => ({ x: p[0], y: p[1] })),
  backgroundColor: rgba(sectorColors[i], 0.7), borderWidth: 0, pointRadius: 2.1
})));
draw('right', clusterNames.map((name, i) => ({
  label: name, order: -i,
  data: clusters[i].map(p => ({ x: p[0], y: p[1] })),
  backgroundColor: rgba(clusterColors[i], 0.7), borderWidth: 0, pointRadius: 2.1
})));

// legends below the plots, filled column by column
function legend(id, names, colors, rows, colX) {
  const box = document.getElementById(id);
  names.forEach((name, i) => {
    const col = Math.floor(i / rows), row = i % rows;
    const y = 18 + row * 12.7;
    const mk = document.createElement('div');
    mk.className = 'mk';
    mk.style.left = (colX[col] - 2) + 'px';
    mk.style.top = (y + 3) + 'px';
    mk.style.background = rgba(colors[i], 0.7);
    box.appendChild(mk);
    const it = document.createElement('div');
    it.className = 'it';
    it.style.left = (colX[col] + 15) + 'px';
    it.style.top = y + 'px';
    it.textContent = name;
    box.appendChild(it);
  });
}
legend('legL', sectors, sectorColors, 3, [11, 160, 291, 380]);
legend('legR', clusterNames, clusterColors, 2, [12, 98, 185]);
</script>
</body>
</html>
